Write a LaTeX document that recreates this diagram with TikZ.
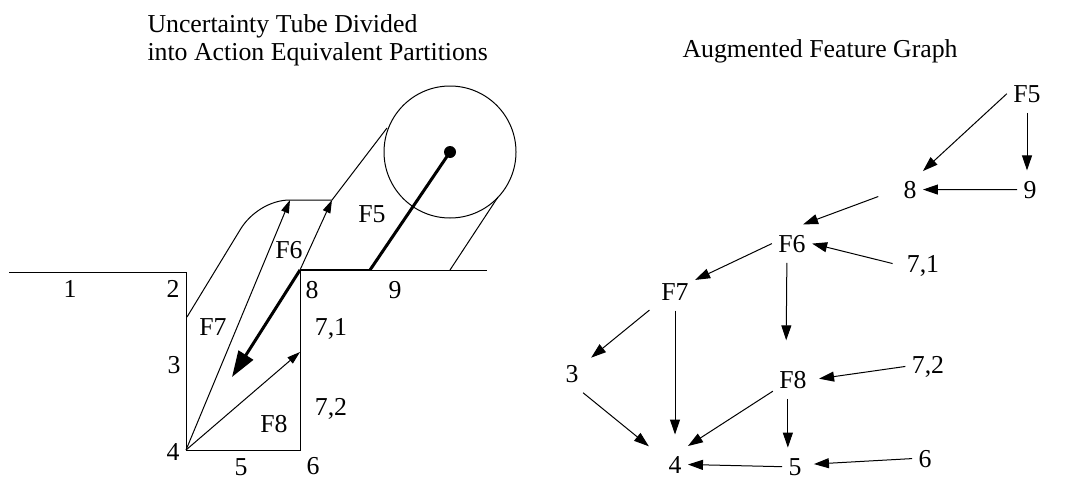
\documentclass[tikz,border=0pt]{standalone}
\usepackage{fontspec}
\setmainfont{Liberation Serif}
\usetikzlibrary{arrows.meta}

\tikzset{
  lbl/.style={anchor=base, inner sep=0pt, font=\fontsize{25.8}{30}\selectfont},
  gnode/.style={anchor=base, inner xsep=6pt, inner ysep=10pt, font=\fontsize{25.8}{30}\selectfont},
  garrow/.style={line width=1pt, -{Triangle[length=15pt,width=10pt]}},
  thinarrow/.style={line width=1pt, -{Triangle[length=13pt,width=8pt]}},
  thickarrow/.style={line width=3pt, -{Triangle[length=26pt,width=17pt]}}
}

\begin{document}
\begin{tikzpicture}[x=1pt, y=-1pt, line width=1pt]
  \useasboundingbox (0,0) rectangle (1091,479);

  \node[lbl, anchor=base west] (tubetitle) at (147,32) {Uncertainty Tube Divided};
  \node[lbl, anchor=base west] (tubetitleb) at (147,60) {into Action Equivalent Partitions};
  \node[lbl, anchor=base west] (graphtitle) at (682,57) {Augmented Feature Graph};

  \coordinate (c2) at (186,272);
  \coordinate (c3) at (187,317);
  \coordinate (c4) at (186,450);
  \coordinate (c6) at (300,450);
  \coordinate (c8) at (300,270);
  \coordinate (c9) at (370,270);
  \coordinate (c71) at (300,352);
  \coordinate (ctop) at (290,200);
  \coordinate (ctopb) at (332,200);
  \coordinate (cdot) at (450,152);

  \draw (9,272) -- (c2) -- (c4) -- (c6) -- (c8) -- (487,270);
  \draw[line width=2pt] (c8) -- (c9);
  \draw[line width=3pt] (c9) -- (cdot);
  \fill (cdot) circle (6);
  \draw (cdot) circle (66);
  \draw (c3) -- (240,230) .. controls (250,213) and (270,200) .. (ctop) -- (ctopb) -- (387,128);
  \draw (450,270) -- (498,197);

  \draw[thinarrow] (c4) -- (ctop);
  \draw[thinarrow] (c8) -- (ctopb);
  \draw[thinarrow] (c4) -- (c71);
  \draw[thickarrow] (c8) -- (232,377);

  \node[lbl] (l1) at (70,297) {1};
  \node[lbl] (l2) at (173,297) {2};
  \node[lbl] (l3) at (174,373) {3};
  \node[lbl] (l4) at (173,460) {4};
  \node[lbl] (l5) at (241,475) {5};
  \node[lbl] (l6) at (313,474) {6};
  \node[lbl] (l8) at (312,298) {8};
  \node[lbl] (l9) at (395,298) {9};
  \node[lbl] (l71) at (331,335) {7,1};
  \node[lbl] (l72) at (331,415) {7,2};
  \node[lbl] (lF5) at (372,222) {F5};
  \node[lbl] (lF6) at (289,258) {F6};
  \node[lbl] (lF7) at (213,335) {F7};
  \node[lbl] (lF8) at (274,432) {F8};

  \node[gnode] (gF5) at (1027,102) {F5};
  \node[gnode] (g9) at (1030,198) {9};
  \node[gnode] (g8) at (910,198) {8};
  \node[gnode] (gF6) at (792,252) {F6};
  \node[gnode] (g71) at (923,272) {7,1};
  \node[gnode] (gF7) at (675,300) {F7};
  \node[gnode] (g3) at (572,382) {3};
  \node[gnode] (gF8) at (793,388) {F8};
  \node[gnode] (g72) at (928,373) {7,2};
  \node[gnode] (g4) at (675,473) {4};
  \node[gnode] (g5) at (795,475) {5};
  \node[gnode] (g6) at (925,467) {6};

  \draw[garrow] (gF5.west) -- (g8.55);
  \draw[garrow] (gF5.south) -- (gF5.south |- g9.north);
  \draw[garrow] (g9.west) -- (g8.east);
  \draw[garrow, shorten <=20pt] (g8.west) -- (gF6.60);
  \draw[garrow, shorten <=8pt] (g71.west) -- (gF6.east);
  \draw[garrow] (gF6.west) -- (gF7.30);
  \draw[garrow, shorten >=20pt] (gF6.255) -- (gF8.110);
  \draw[garrow, shorten <=7pt, shorten >=8pt] (gF7.215) -- (g3.40);
  \draw[garrow, shorten >=11pt] (gF7.south) -- (g4.north);
  \draw[garrow, shorten >=17pt] (g3.300) -- (g4.150);
  \draw[garrow, shorten >=6pt] (g72.west) -- (gF8.east);
  \draw[garrow] (gF8.210) -- (g4.55);
  \draw[garrow] (gF8.255) -- (gF8.255 |- g5.north);
  \draw[garrow] (g5.west) -- (g4.east);
  \draw[garrow, shorten >=6pt] (g6.west) -- (g5.10);
\end{tikzpicture}
\end{document}
